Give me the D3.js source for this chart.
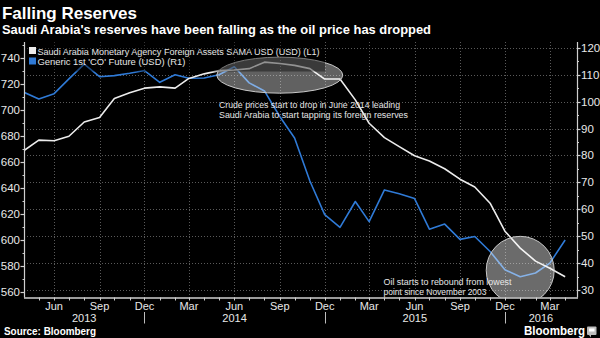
<!DOCTYPE html>
<html>
<head>
<meta charset="utf-8">
<script src="https://cdn.jsdelivr.net/npm/d3@7"></script>
<style>
  html, body { margin: 0; padding: 0; background: #000; }
  svg { display: block; }
  text { font-family: "Liberation Sans", Arial, sans-serif; }
  .narrow { font-family: "Liberation Sans Narrow", "Arial Narrow", "Liberation Sans", sans-serif; }
</style>
</head>
<body>
<svg id="chart" width="600" height="338"></svg>
<script>
// Monthly observations, April 2013 – April 2016
const months = [
  "2013-04","2013-05","2013-06","2013-07","2013-08","2013-09","2013-10","2013-11","2013-12",
  "2014-01","2014-02","2014-03","2014-04","2014-05","2014-06","2014-07","2014-08","2014-09",
  "2014-10","2014-11","2014-12","2015-01","2015-02","2015-03","2015-04","2015-05","2015-06",
  "2015-07","2015-08","2015-09","2015-10","2015-11","2015-12","2016-01","2016-02","2016-03",
  "2016-04"
];
// SAMA foreign assets, USD bn (left axis)
const samaAssets = [
  669, 677, 676.5, 680, 691, 694.5, 709, 713.5, 717,
  718, 717, 724.5, 728, 730.5, 731, 732, 737, 736,
  734.5, 732, 724, 724, 708, 690, 679, 672, 665,
  661, 655, 647, 641, 628.5, 607, 594, 584, 578.5,
  572
];
// Generic 1st 'CO' (Brent) future, USD (right axis)
const brent = [
  103.5, 101, 103, 108.5, 114, 109.3, 109.7, 110.6, 111.6,
  107.2, 110, 108.7, 108.8, 110, 113, 107, 104, 94.5,
  86.5, 70.5, 58, 53.3, 62.9, 55.4, 67.2, 65.8, 64,
  52.6, 54.5, 48.8, 49.9, 44.3, 37.5, 34.9, 36.3, 40,
  48.6
];
const leftTicks = [560, 580, 600, 620, 640, 660, 680, 700, 720, 740];
const rightTicks = [30, 40, 50, 60, 70, 80, 90, 100, 110, 120];
const monthTicks = ["2013-06","2013-09","2013-12","2014-03","2014-06","2014-09","2014-12",
                    "2015-03","2015-06","2015-09","2015-12","2016-03"];
const yearLabels = ["2013", "2014", "2015", "2016"];
const seriesNames = [
  "Saudi Arabia Monetary Agency Foreign Assets SAMA USD (USD)  (L1)",
  "Generic 1st 'CO' Future (USD)  (R1)"
];

const parseMonth = d3.utcParse("%Y-%m");
const fmtMonth = d3.utcFormat("%b");
const dates = months.map(parseMonth);

const svg = d3.select("#chart");
const W = 600, H = 338;
const plot = { left: 24, right: 577, top: 42, bottom: 297.5 };

svg.append("rect").attr("width", W).attr("height", H).attr("fill", "#000");

const x = d3.scaleUtc()
  .domain([Date.UTC(2013, 3, 1), Date.UTC(2016, 3, 25)])
  .range([plot.left, plot.right]);
const yL = d3.scaleLinear().domain([556, 752.5]).range([plot.bottom, plot.top]);
const yR = d3.scaleLinear().domain([27.2, 122.2]).range([plot.bottom, plot.top]);

svg.append("clipPath").attr("id", "plotClip")
  .append("rect")
  .attr("x", plot.left).attr("y", plot.top)
  .attr("width", plot.right - plot.left).attr("height", plot.bottom - plot.top);

// Grid: horizontal at right-axis ticks, vertical at quarter months
const grid = svg.append("g").attr("stroke", "#5a5a5a").attr("stroke-width", 1)
  .attr("stroke-dasharray", "1,2");
grid.selectAll("line.h").data(rightTicks).join("line")
  .attr("x1", plot.left).attr("x2", plot.right)
  .attr("y1", d => Math.round(yR(d)) + 0.5).attr("y2", d => Math.round(yR(d)) + 0.5);
grid.selectAll("line.v").data(monthTicks.map(parseMonth)).join("line")
  .attr("x1", d => Math.round(x(d)) + 0.5).attr("x2", d => Math.round(x(d)) + 0.5)
  .attr("y1", plot.top).attr("y2", plot.bottom);

// Series lines
const lineL = d3.line().x((d, i) => x(dates[i])).y(d => yL(d));
const lineR = d3.line().x((d, i) => x(dates[i])).y(d => yR(d));
const lines = svg.append("g").attr("clip-path", "url(#plotClip)").attr("fill", "none")
  .attr("stroke-linejoin", "round");
lines.append("path").datum(brent).attr("d", lineR)
  .attr("stroke", "#2f7ad6").attr("stroke-width", 1.6);
lines.append("path").datum(samaAssets).attr("d", lineL)
  .attr("stroke", "#ececec").attr("stroke-width", 1.6);

// Highlight shapes
const hl = svg.append("g").attr("clip-path", "url(#plotClip)");
hl.append("ellipse")
  .attr("cx", x(Date.UTC(2014, 8, 1))).attr("cy", yL(727))
  .attr("rx", 63).attr("ry", 18)
  .attr("fill", "#fff").attr("fill-opacity", 0.38)
  .attr("stroke", "#c8c8c8").attr("stroke-width", 1);
hl.append("circle")
  .attr("cx", x(Date.UTC(2016, 0, 1))).attr("cy", yR(37.3))
  .attr("r", 34)
  .attr("fill", "#fff").attr("fill-opacity", 0.42)
  .attr("stroke", "#c8c8c8").attr("stroke-width", 1);

// Legend
const legend = svg.append("g");
legend.append("rect").attr("x", plot.left).attr("y", plot.top)
  .attr("width", 301).attr("height", 29.5)
  .attr("fill", "#000").attr("fill-opacity", 0.4);
const legendColors = ["#ececec", "#2f7ad6"];
const legendWidths = [282, 148];
seriesNames.forEach((name, i) => {
  legend.append("rect").attr("x", 29).attr("y", 47 + i * 10.5)
    .attr("width", 7).attr("height", 7).attr("fill", legendColors[i]);
  legend.append("text").attr("class", "narrow")
    .attr("x", 37.5).attr("y", 54.5 + i * 10.5)
    .attr("font-size", 9.2).attr("fill", "#e6e6e6")
    .attr("textLength", legendWidths[i]).attr("lengthAdjust", "spacingAndGlyphs")
    .text(name);
});

// Annotations
const notes = [
  { lines: ["Crude prices start to drop in June 2014 leading",
            "Saudi Arabia to start tapping its foreign reserves"],
    x: 219, y: 107.5, widths: [181, 189] },
  { lines: ["Oil starts to rebound from lowest", "point since November 2003"],
    x: 383.5, y: 284.5, widths: [128, 103] }
];
notes.forEach(n => {
  n.lines.forEach((t, i) => {
    svg.append("text").attr("class", "narrow")
      .attr("x", n.x).attr("y", n.y + i * 10.6)
      .attr("font-size", 9.2).attr("fill", "#e6e6e6")
      .attr("textLength", n.widths[i]).attr("lengthAdjust", "spacingAndGlyphs")
      .text(t);
  });
});

// Axes
const axisColor = "#cfcfcf";
const labelColor = "#e8e8e8";

// Left axis
const left = svg.append("g");
left.append("line").attr("x1", plot.left + 0.5).attr("x2", plot.left + 0.5)
  .attr("y1", plot.top).attr("y2", plot.bottom).attr("stroke", axisColor).attr("stroke-width", 1.2);
left.selectAll("line.minor").data(d3.range(560, 751, 10)).join("line")
  .attr("x1", plot.left - 1.5).attr("x2", plot.left)
  .attr("y1", d => Math.round(yL(d)) + 0.5).attr("y2", d => Math.round(yL(d)) + 0.5)
  .attr("stroke", axisColor);
left.selectAll("line.major").data(leftTicks).join("line")
  .attr("x1", plot.left - 3.5).attr("x2", plot.left)
  .attr("y1", d => Math.round(yL(d)) + 0.5).attr("y2", d => Math.round(yL(d)) + 0.5)
  .attr("stroke", axisColor).attr("stroke-width", 1.2);
left.selectAll("text").data(leftTicks).join("text")
  .attr("x", plot.left - 4).attr("y", d => yL(d) + 4)
  .attr("text-anchor", "end").attr("font-size", 11.5).attr("fill", labelColor)
  .text(d => d);

// Right axis
const right = svg.append("g");
right.append("line").attr("x1", plot.right + 0.5).attr("x2", plot.right + 0.5)
  .attr("y1", plot.top).attr("y2", plot.bottom).attr("stroke", axisColor).attr("stroke-width", 1.2);
right.selectAll("line.minor").data(d3.range(30, 121, 5)).join("line")
  .attr("x1", plot.right).attr("x2", plot.right + 2)
  .attr("y1", d => Math.round(yR(d)) + 0.5).attr("y2", d => Math.round(yR(d)) + 0.5)
  .attr("stroke", axisColor);
right.selectAll("line.major").data(rightTicks).join("line")
  .attr("x1", plot.right).attr("x2", plot.right + 3.5)
  .attr("y1", d => Math.round(yR(d)) + 0.5).attr("y2", d => Math.round(yR(d)) + 0.5)
  .attr("stroke", axisColor).attr("stroke-width", 1.2);
right.selectAll("text").data(rightTicks).join("text")
  .attr("x", plot.right + 4).attr("y", d => yR(d) + 4)
  .attr("font-size", 11.5).attr("fill", labelColor)
  .text(d => d);

// Bottom axis
const bottom = svg.append("g");
bottom.append("line").attr("x1", plot.left).attr("x2", plot.right + 1)
  .attr("y1", plot.bottom + 0.5).attr("y2", plot.bottom + 0.5)
  .attr("stroke", axisColor).attr("stroke-width", 1.5);
bottom.selectAll("line.m").data(d3.utcMonth.range(Date.UTC(2013, 4, 1), Date.UTC(2016, 4, 1))).join("line")
  .attr("x1", d => Math.round(x(d)) + 0.5).attr("x2", d => Math.round(x(d)) + 0.5)
  .attr("y1", plot.bottom).attr("y2", plot.bottom + 3)
  .attr("stroke", axisColor);
bottom.selectAll("text.month").data(monthTicks.map(parseMonth)).join("text")
  .attr("x", d => x(d)).attr("y", 309.5)
  .attr("text-anchor", "middle").attr("font-size", 11).attr("fill", labelColor)
  .text(d => fmtMonth(d));

// Year separators sit under each December label
const yearBreaks = monthTicks.map(parseMonth).filter(d => d.getUTCMonth() === 11);
bottom.selectAll("line.sep").data(yearBreaks).join("line")
  .attr("x1", d => Math.round(x(d)) + 0.5).attr("x2", d => Math.round(x(d)) + 0.5)
  .attr("y1", 312).attr("y2", 323.5)
  .attr("stroke", "#bdbdbd").attr("stroke-width", 1);
const edges = [plot.left, ...yearBreaks.map(d => x(d)), plot.right];
bottom.selectAll("text.year").data(yearLabels).join("text")
  .attr("x", (d, i) => (edges[i] + edges[i + 1]) / 2).attr("y", 321.5)
  .attr("text-anchor", "middle").attr("font-size", 11).attr("fill", labelColor)
  .text(d => d);

// Titles
svg.append("text").attr("x", 2).attr("y", 19)
  .attr("font-size", 17).attr("font-weight", "bold").attr("fill", "#fff")
  .attr("textLength", 135).attr("lengthAdjust", "spacingAndGlyphs")
  .text("Falling Reserves");
svg.append("text").attr("x", 2).attr("y", 34)
  .attr("font-size", 13).attr("font-weight", "bold").attr("fill", "#fff")
  .attr("textLength", 429).attr("lengthAdjust", "spacingAndGlyphs")
  .text("Saudi Arabia's reserves have been falling as the oil price has dropped");

// Footer
svg.append("text").attr("x", 4).attr("y", 335)
  .attr("font-size", 10.5).attr("font-weight", "bold").attr("fill", "#fff")
  .attr("textLength", 92).attr("lengthAdjust", "spacingAndGlyphs")
  .text("Source: Bloomberg");
svg.append("text").attr("x", 524).attr("y", 334.5)
  .attr("font-size", 13.5).attr("font-weight", "bold").attr("fill", "#fff")
  .attr("textLength", 61).attr("lengthAdjust", "spacingAndGlyphs")
  .text("Bloomberg");
const icon = svg.append("g").attr("transform", "translate(587,326.5)");
icon.append("rect").attr("width", 9.5).attr("height", 8.5).attr("rx", 1).attr("fill", "#bdbdbd");
icon.append("rect").attr("x", 2).attr("y", 2).attr("width", 5.5).attr("height", 3).attr("fill", "#fff");
icon.append("path").attr("d", "M2,8.5 L4,11 L4,8.5 Z").attr("fill", "#bdbdbd");
</script>
</body>
</html>
